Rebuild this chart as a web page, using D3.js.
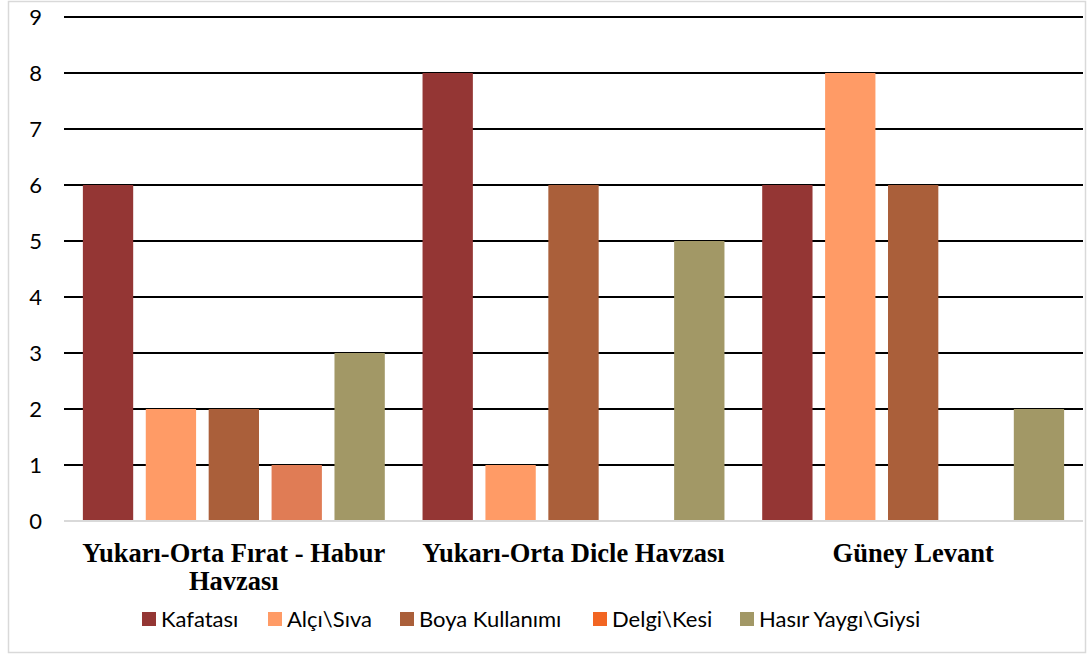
<!DOCTYPE html>
<html lang="tr">
<head>
    <meta charset="UTF-8">
    <title>Bölgelere göre uygulamalar</title>
    <script src="https://d3js.org/d3.v7.min.js"></script>
    <style>
        body { margin: 0; background: #ffffff; }
        svg { display: block; }
        .ytick text { font-family: 'Lato', 'Noto Sans', sans-serif; font-size: 22px; fill: #000; }
        .cat-label { font-family: 'Liberation Serif', 'DejaVu Serif', serif; font-weight: bold; font-size: 26.5px; fill: #000; }
        .legend text { font-family: 'Lato', 'Noto Sans', sans-serif; font-size: 22px; fill: #000; }
    </style>
</head>
<body>
<div id="chart"></div>
<script>
    // data
    const categories = [
        ['Yukarı-Orta Fırat - Habur', 'Havzası'],
        ['Yukarı-Orta Dicle Havzası'],
        ['Güney Levant']
    ];
    const series = ['Kafatası', 'Alçı\\Sıva', 'Boya Kullanımı', 'Delgi\\Kesi', 'Hasır Yaygı\\Giysi'];
    const kafatasi = [6, 8, 6];
    const alciSiva = [2, 1, 8];
    const boya = [2, 6, 6];
    const delgi = [1, 0, 0];
    const hasir = [3, 5, 2];
    const yTicks = [0, 1, 2, 3, 4, 5, 6, 7, 8, 9];

    const barColors = ['#943634', '#FF9B66', '#AA5F3A', '#E07C55', '#A29866'];
    const legendColors = ['#943634', '#FF9B66', '#AA5F3A', '#F26522', '#A29866'];
    const legendX = [142, 268, 400, 593, 740];

    const values = [kafatasi, alciSiva, boya, delgi, hasir];

    const width = 1088, height = 659;
    const plot = { left: 64, right: 1083, top: 17, bottom: 521 };

    const svg = d3.select('#chart').append('svg')
        .attr('width', width)
        .attr('height', height);

    // outer frame
    svg.append('rect')
        .attr('x', 8.5).attr('y', 1.5)
        .attr('width', 1077).attr('height', 651)
        .attr('fill', 'none')
        .attr('stroke', '#d9d9d9')
        .attr('stroke-width', 1.5);

    const x0 = d3.scaleBand()
        .domain(d3.range(categories.length))
        .range([plot.left, plot.right])
        .padding(0);

    const x1 = d3.scaleBand()
        .domain(d3.range(series.length))
        .range([0, x0.bandwidth()])
        .paddingInner(0.2)
        .paddingOuter(0.3);

    const y = d3.scaleLinear()
        .domain([0, 9])
        .range([plot.bottom, plot.top]);

    // gridlines
    svg.append('g')
        .selectAll('line')
        .data(yTicks.filter(d => d > 0))
        .join('line')
        .attr('x1', plot.left).attr('x2', plot.right)
        .attr('y1', d => y(d)).attr('y2', d => y(d))
        .attr('stroke', '#000')
        .attr('stroke-width', 2);

    // y tick labels
    svg.append('g')
        .attr('class', 'ytick')
        .selectAll('text')
        .data(yTicks)
        .join('text')
        .attr('x', 42)
        .attr('y', d => y(d))
        .attr('dy', '0.35em')
        .attr('text-anchor', 'end')
        .text(d => d);

    // bars
    const groups = svg.append('g')
        .selectAll('g')
        .data(categories.map((c, i) => i))
        .join('g')
        .attr('transform', i => `translate(${x0(i)},0)`);

    groups.selectAll('rect')
        .data(i => values.map((v, s) => ({ s, v: v[i] })).filter(d => d.v > 0))
        .join('rect')
        .attr('x', d => x1(d.s))
        .attr('width', x1.bandwidth())
        .attr('y', d => y(d.v))
        .attr('height', d => y(0) - y(d.v))
        .attr('fill', d => barColors[d.s]);

    // baseline
    svg.append('line')
        .attr('x1', plot.left).attr('x2', plot.right)
        .attr('y1', y(0)).attr('y2', y(0))
        .attr('stroke', '#d9d9d9')
        .attr('stroke-width', 2);

    // category labels
    const cat = svg.append('g')
        .selectAll('text')
        .data(categories)
        .join('text')
        .attr('class', 'cat-label')
        .attr('text-anchor', 'middle')
        .attr('x', (d, i) => x0(i) + x0.bandwidth() / 2)
        .attr('y', 562);

    cat.selectAll('tspan')
        .data(d => d)
        .join('tspan')
        .attr('x', function () { return d3.select(this.parentNode).attr('x'); })
        .attr('dy', (d, i) => i === 0 ? 0 : 28)
        .text(d => d);

    // legend
    const legend = svg.append('g')
        .attr('class', 'legend')
        .selectAll('g')
        .data(series)
        .join('g')
        .attr('transform', (d, i) => `translate(${legendX[i]},619)`);

    legend.append('rect')
        .attr('x', 0).attr('y', -7)
        .attr('width', 14).attr('height', 14)
        .attr('fill', (d, i) => legendColors[i]);

    legend.append('text')
        .attr('x', 19)
        .attr('y', 0)
        .attr('dy', '0.35em')
        .text(d => d);
</script>
</body>
</html>
